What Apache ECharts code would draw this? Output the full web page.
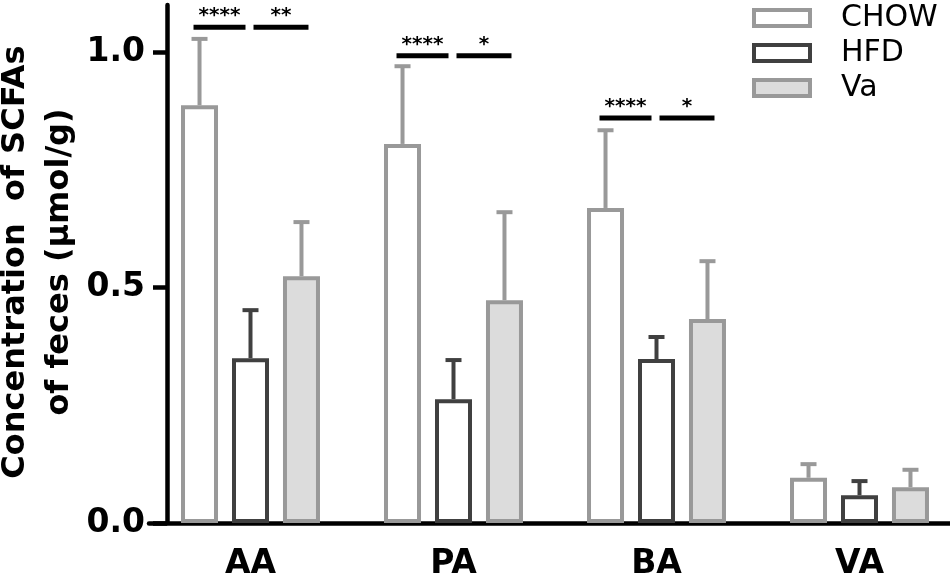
<!DOCTYPE html>
<html>
<head>
<meta charset="utf-8">
<script src="https://cdn.jsdelivr.net/npm/echarts@6/dist/echarts.min.js"></script>
<style>
  html, body { margin: 0; padding: 0; background: #fff; }
  #chart { width: 950px; height: 579px; }
</style>
</head>
<body>
<div id="chart"></div>
<script>
// Values (µmol/g), mean + upper SD
const categories = ['AA', 'PA', 'BA', 'VA'];
const groups     = ['CHOW', 'HFD', 'Va'];

const chowMean = [0.887, 0.805, 0.669, 0.096];
const chowErr  = [0.141, 0.165, 0.165, 0.029];
const hfdMean  = [0.350, 0.263, 0.348, 0.059];
const hfdErr   = [0.102, 0.083, 0.047, 0.030];
const vaMean   = [0.524, 0.473, 0.433, 0.076];
const vaErr    = [0.115, 0.187, 0.123, 0.037];

const yTicks = [0, 0.5, 1.0];
const yTitle = ['Concentration  of SCFAs', 'of feces (μmol/g)'];

// significance bars: category index, height, labels (CHOW vs HFD, HFD vs Va)
const sigCats   = [0, 1, 2];
const sigLevels = [1.053, 0.992, 0.860];
const sigLeft   = ['****', '****', '****'];
const sigRight  = ['**', '*', '*'];

const GRAY = '#999999';
const DARK = '#404040';
const BOLD = 'DejaVu Sans';

// echarts keeps the border inside barWidth, so this is the outer width
const BAR_W = 37;
const BAR_GAP = 0.378;
const STEP = BAR_W * (1 + BAR_GAP);   // centre-to-centre distance of bars in a group

const styles = [
  { color: '#ffffff', borderColor: GRAY },
  { color: '#ffffff', borderColor: DARK },
  { color: '#dcdcdc', borderColor: GRAY },
];
const means = [chowMean, hfdMean, vaMean];
const errs  = [chowErr, hfdErr, vaErr];

function errorSeries(i) {
  return {
    type: 'custom',
    name: groups[i] + ' err',
    z: 1,
    silent: true,
    data: categories.map((c, k) => [k, means[i][k], means[i][k] + errs[i][k]]),
    renderItem: (params, api) => {
      const off = (i - 1) * STEP;
      const base = api.coord([api.value(0), api.value(1)]);
      const top = api.coord([api.value(0), api.value(2)]);
      const x = base[0] + off;
      const st = { stroke: styles[i].borderColor, lineWidth: 4 };
      return {
        type: 'group',
        children: [
          { type: 'line', shape: { x1: x, y1: base[1], x2: x, y2: top[1] }, style: st },
          { type: 'line', shape: { x1: x - 8, y1: top[1], x2: x + 8, y2: top[1] }, style: st },
        ],
      };
    },
  };
}

// rotated two-line y title, drawn as plain text so the line spacing matches
const titleX = [16, 60];
const titleGraphics = yTitle.map((t, i) => ({
  type: 'text',
  x: titleX[i],
  y: 262,
  rotation: Math.PI / 2,
  style: {
    text: t,
    font: 'bold 32px "DejaVu Sans"',
    fill: '#000',
    align: 'center',
    verticalAlign: 'middle',
  },
}));

const chart = echarts.init(document.getElementById('chart'));
chart.setOption({
  animation: false,
  backgroundColor: '#ffffff',
  grid: { left: 149, width: 812, top: 5, bottom: 56, outerBoundsMode: 'none', containLabel: false },
  graphic: titleGraphics,
  legend: {
    data: groups,
    left: 752,
    top: 3,
    padding: 0,
    orient: 'vertical',
    icon: 'rect',
    itemWidth: 56,
    itemHeight: 16,
    itemGap: 5,
    itemStyle: { borderWidth: 4 },
    textStyle: { fontFamily: 'DejaVu Sans', fontSize: 30, color: '#000', lineHeight: 30, padding: [0, 0, 0, 26] },
  },
  xAxis: {
    type: 'category',
    data: categories,
    axisLine: { lineStyle: { color: '#000', width: 4.5 } },
    axisTick: { alignWithLabel: true, length: 14, lineStyle: { color: '#000', width: 4.5 } },
    axisLabel: { color: '#000', fontFamily: BOLD, fontWeight: 'bold', fontSize: 33, margin: 25 },
  },
  yAxis: {
    type: 'value',
    min: 0,
    max: 1.1,
    offset: -18,
    splitLine: { show: false },
    axisLine: { show: true, lineStyle: { color: '#000', width: 4.5 } },
    axisTick: { show: true, length: 14, customValues: yTicks, lineStyle: { color: '#000', width: 4.5 } },
    axisLabel: {
      customValues: yTicks,
      formatter: v => v.toFixed(1),
      color: '#000', fontFamily: BOLD, fontWeight: 'bold', fontSize: 33, margin: 22,
    },
  },
  series: [
    ...groups.map((g, i) => ({
      type: 'bar',
      name: g,
      z: 2,
      data: means[i],
      barWidth: BAR_W,
      barGap: (BAR_GAP * 100) + '%',
      itemStyle: { color: styles[i].color, borderColor: styles[i].borderColor, borderWidth: 4 },
    })),
    ...groups.map((g, i) => errorSeries(i)),
    {
      type: 'custom',
      name: 'sig',
      z: 3,
      silent: true,
      data: sigCats.map((c, k) => [c, sigLevels[k], sigLeft[k], sigRight[k]]),
      renderItem: (params, api) => {
        const p = api.coord([api.value(0), api.value(1)]);
        const cx = p[0], y = p[1];
        const k = params.dataIndex;
        const segs = [[cx - STEP - 6, cx - 5], [cx + 3, cx + STEP + 7]];
        const labels = [sigLeft[k], sigRight[k]];
        const children = [];
        segs.forEach((s, j) => {
          children.push({ type: 'line', shape: { x1: s[0], y1: y, x2: s[1], y2: y }, style: { stroke: '#000', lineWidth: 5 } });
          children.push({
            type: 'text',
            style: {
              x: (s[0] + s[1]) / 2, y: y - 11, text: labels[j],
              align: 'center', verticalAlign: 'middle',
              font: 'bold 20px "DejaVu Sans"', fill: '#000',
            },
          });
        });
        return { type: 'group', children };
      },
    },
  ],
});
</script>
</body>
</html>
